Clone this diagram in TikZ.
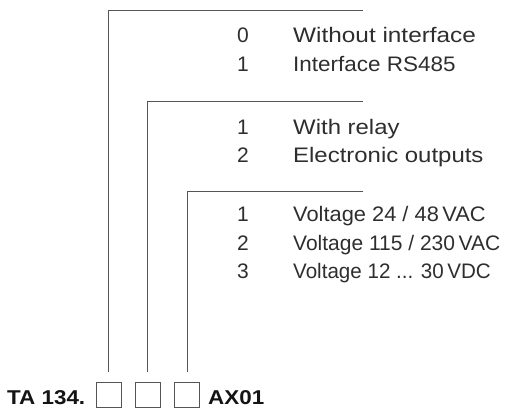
\documentclass[tikz,border=0pt]{standalone}
\usepackage{fontspec}
\setmainfont{Liberation Sans}
\newfontfamily\wideA[FakeStretch=1.16]{Liberation Sans}
\newfontfamily\wideB[FakeStretch=1.14]{Liberation Sans}
\newfontfamily\wideC[FakeStretch=1.07]{Liberation Sans}
\newfontfamily\wideD[FakeStretch=1.04]{Liberation Sans}
\newfontfamily\wideE[FakeStretch=1.0]{Liberation Sans}
\newfontfamily\wideF[FakeStretch=0.98]{Liberation Sans}
\newfontfamily\wideb[FakeStretch=1.12]{Liberation Sans}
\definecolor{txt}{HTML}{2E2E2E}
\definecolor{ln}{HTML}{555555}
\begin{document}
\begin{tikzpicture}[x=1pt,y=-1pt,
  lbl/.style={anchor=base west,inner sep=0pt,text=txt,font=\wideA\fontsize{21}{24}\selectfont},
  fB/.style={font=\wideB\fontsize{21}{24}\selectfont},
  fC/.style={font=\wideC\fontsize{21}{24}\selectfont},
  fD/.style={font=\wideD\fontsize{21}{24}\selectfont},
  fE/.style={font=\wideE\fontsize{21}{24}\selectfont},
  fF/.style={font=\wideF\fontsize{21}{24}\selectfont},
  code/.style={anchor=base west,inner sep=0pt,text=black!92,font=\wideb\bfseries\fontsize{20}{24}\selectfont},
  box/.style={draw=ln,line width=0.9pt,minimum size=25pt,inner sep=0pt},
  lead/.style={draw=ln,line width=0.9pt}]
\useasboundingbox (0,0) rectangle (525,414);
% boxes
\node[box] (b1) at (108.5,395) {};
\node[box] (b2) at (147.5,395) {};
\node[box] (b3) at (187,395) {};
\node[code] (ta) at (7,404) {TA 134.};
\node[code] (ax) at (208,404) {AX01};
% leader corners and ends
\coordinate (t1) at (108.5,10);
\coordinate (h1) at (363,10);
\coordinate (t2) at (147.5,101);
\coordinate (h2) at (363,101);
\coordinate (t3) at (187,191);
\coordinate (h3) at (363,191);
\draw[lead] (h1) -- (t1) -- ([yshift=10pt]b1.north);
\draw[lead] (h2) -- (t2) -- ([yshift=10pt]b2.north);
\draw[lead] (h3) -- (t3) -- ([yshift=10pt]b3.north);
% texts
\node[lbl,fE] (d01) at (237,43) {0};
\node[lbl] (x01) at (293,43) {Without interface};
\node[lbl,fE] (d02) at (237,72) {1};
\node[lbl,fC] (x02) at (293,72) {Interface RS485};
\node[lbl,fE] (d11) at (237,135) {1};
\node[lbl,fB] (x11) at (293,135) {With relay};
\node[lbl,fE] (d12) at (237,163) {2};
\node[lbl,fB] (x12) at (293,163) {Electronic outputs};
\node[lbl,fE] (d21) at (237,222) {1};
\node[lbl,fD] (x21) at (293,222) {Voltage 24 / 48\,VAC};
\node[lbl,fE] (d22) at (237,251) {2};
\node[lbl,fE] (x22) at (293,251) {Voltage 115 / 230\,VAC};
\node[lbl,fE] (d23) at (237,279) {3};
\node[lbl,fF] (x23) at (293,279) {Voltage 12 ... 30\,VDC};
\end{tikzpicture}
\end{document}
